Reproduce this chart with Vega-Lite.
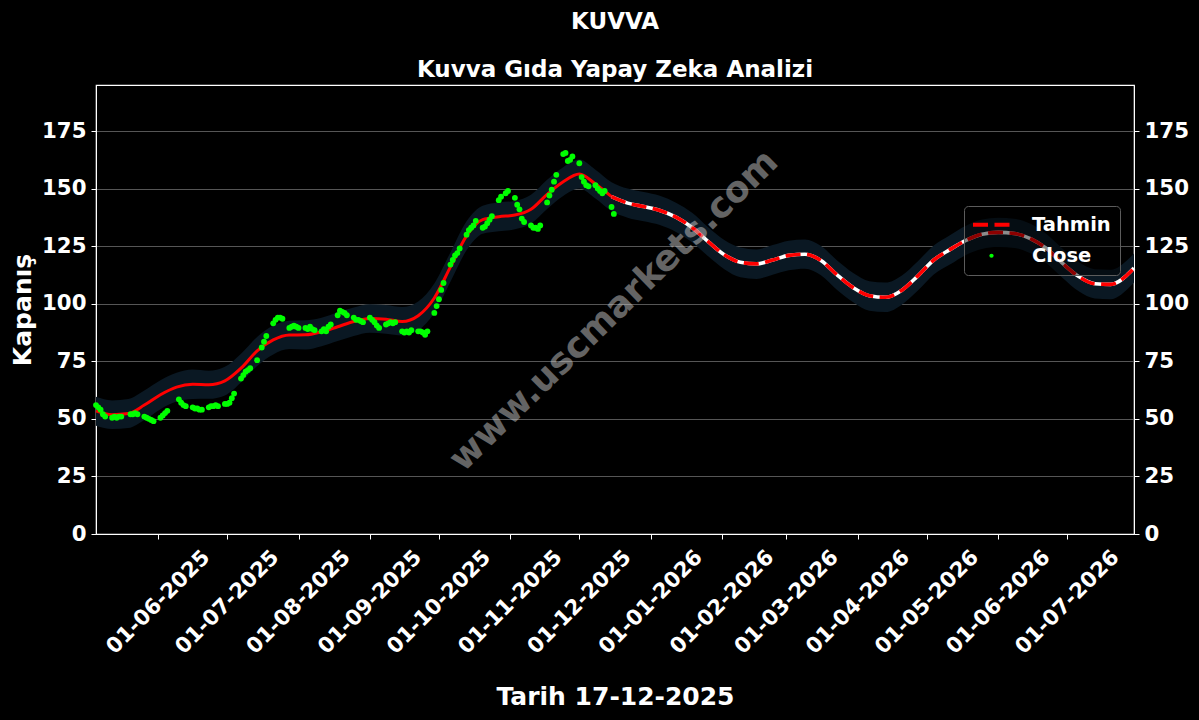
{
  "$schema": "https://vega.github.io/schema/vega-lite/v6.json",
  "width": 1038,
  "height": 449,
  "autosize": {"type": "none"},
  "padding": {"left": 96, "top": 85, "right": 65, "bottom": 186},
  "background": "black",
  "title": {
    "text": "KUVVA",
    "subtitle": "Kuvva Gıda Yapay Zeka Analizi",
    "anchor": "middle",
    "frame": "group",
    "color": "white",
    "subtitleColor": "white",
    "font": "DejaVu Sans",
    "subtitleFont": "DejaVu Sans",
    "fontSize": 23,
    "subtitleFontSize": 23,
    "fontWeight": "bold",
    "subtitleFontWeight": "bold",
    "subtitlePadding": 25,
    "offset": 3
  },
  "config": {
    "view": {"stroke": "white", "strokeWidth": 1.2},
    "axis": {
      "domainColor": "white",
      "tickColor": "white",
      "labelColor": "white",
      "titleColor": "white",
      "labelFont": "DejaVu Sans",
      "titleFont": "DejaVu Sans",
      "labelFontWeight": "bold",
      "titleFontWeight": "bold",
      "labelFontSize": 21.3,
      "titleFontSize": 25,
      "tickSize": 5,
      "labelPadding": 5,
      "grid": false
    }
  },
  "datasets": {
    "fc": [
      {"date": "2025-05-05", "yhat": 53.5, "lo": 47.0, "hi": 59.6, "seg": "h"},
      {"date": "2025-05-12", "yhat": 51.8, "lo": 45.6, "hi": 58.0, "seg": "h"},
      {"date": "2025-05-19", "yhat": 52.3, "lo": 46.0, "hi": 58.6, "seg": "h"},
      {"date": "2025-05-26", "yhat": 56.0, "lo": 49.5, "hi": 62.3, "seg": "h"},
      {"date": "2025-06-02", "yhat": 60.5, "lo": 54.2, "hi": 66.8, "seg": "h"},
      {"date": "2025-06-09", "yhat": 63.8, "lo": 57.5, "hi": 70.0, "seg": "h"},
      {"date": "2025-06-16", "yhat": 65.0, "lo": 58.6, "hi": 71.4, "seg": "h"},
      {"date": "2025-06-23", "yhat": 64.8, "lo": 58.7, "hi": 70.9, "seg": "h"},
      {"date": "2025-06-30", "yhat": 66.5, "lo": 60.2, "hi": 72.6, "seg": "h"},
      {"date": "2025-07-07", "yhat": 72.0, "lo": 65.8, "hi": 78.3, "seg": "h"},
      {"date": "2025-07-14", "yhat": 79.5, "lo": 73.0, "hi": 85.6, "seg": "h"},
      {"date": "2025-07-21", "yhat": 84.3, "lo": 78.0, "hi": 90.5, "seg": "h"},
      {"date": "2025-07-28", "yhat": 86.4, "lo": 80.3, "hi": 92.6, "seg": "h"},
      {"date": "2025-08-04", "yhat": 86.5, "lo": 80.1, "hi": 92.8, "seg": "h"},
      {"date": "2025-08-11", "yhat": 87.8, "lo": 81.5, "hi": 93.9, "seg": "h"},
      {"date": "2025-08-18", "yhat": 90.0, "lo": 83.8, "hi": 96.3, "seg": "h"},
      {"date": "2025-08-25", "yhat": 92.3, "lo": 86.0, "hi": 98.4, "seg": "h"},
      {"date": "2025-09-01", "yhat": 93.6, "lo": 87.4, "hi": 99.8, "seg": "h"},
      {"date": "2025-09-08", "yhat": 93.3, "lo": 87.0, "hi": 99.5, "seg": "h"},
      {"date": "2025-09-15", "yhat": 92.3, "lo": 86.2, "hi": 98.6, "seg": "h"},
      {"date": "2025-09-22", "yhat": 94.8, "lo": 88.5, "hi": 101.0, "seg": "h"},
      {"date": "2025-09-29", "yhat": 102.5, "lo": 96.0, "hi": 108.8, "seg": "h"},
      {"date": "2025-10-06", "yhat": 116.0, "lo": 109.6, "hi": 122.3, "seg": "h"},
      {"date": "2025-10-13", "yhat": 129.5, "lo": 123.2, "hi": 135.8, "seg": "h"},
      {"date": "2025-10-20", "yhat": 136.5, "lo": 130.4, "hi": 142.6, "seg": "h"},
      {"date": "2025-10-27", "yhat": 137.8, "lo": 131.5, "hi": 144.0, "seg": "h"},
      {"date": "2025-11-03", "yhat": 138.5, "lo": 132.3, "hi": 144.6, "seg": "h"},
      {"date": "2025-11-10", "yhat": 141.0, "lo": 134.8, "hi": 147.3, "seg": "h"},
      {"date": "2025-11-17", "yhat": 147.5, "lo": 141.1, "hi": 153.8, "seg": "h"},
      {"date": "2025-11-24", "yhat": 153.0, "lo": 146.8, "hi": 159.3, "seg": "h"},
      {"date": "2025-12-01", "yhat": 156.3, "lo": 150.0, "hi": 162.6, "seg": "h"},
      {"date": "2025-12-08", "yhat": 152.0, "lo": 145.7, "hi": 158.2, "seg": "h"},
      {"date": "2025-12-15", "yhat": 146.5, "lo": 140.3, "hi": 152.8, "seg": "h"},
      {"date": "2025-12-15", "yhat": 146.5, "lo": 140.3, "hi": 152.8, "seg": "f"},
      {"date": "2025-12-22", "yhat": 143.7, "lo": 137.4, "hi": 150.0, "seg": "f"},
      {"date": "2025-12-29", "yhat": 142.2, "lo": 135.8, "hi": 148.5, "seg": "f"},
      {"date": "2026-01-05", "yhat": 140.5, "lo": 134.2, "hi": 146.9, "seg": "f"},
      {"date": "2026-01-12", "yhat": 137.6, "lo": 131.2, "hi": 143.9, "seg": "f"},
      {"date": "2026-01-19", "yhat": 133.1, "lo": 126.7, "hi": 139.5, "seg": "f"},
      {"date": "2026-01-26", "yhat": 127.0, "lo": 120.6, "hi": 133.2, "seg": "f"},
      {"date": "2026-02-02", "yhat": 121.3, "lo": 115.0, "hi": 127.7, "seg": "f"},
      {"date": "2026-02-09", "yhat": 118.0, "lo": 111.5, "hi": 124.4, "seg": "f"},
      {"date": "2026-02-16", "yhat": 117.3, "lo": 110.8, "hi": 123.6, "seg": "f"},
      {"date": "2026-02-23", "yhat": 119.0, "lo": 112.6, "hi": 125.5, "seg": "f"},
      {"date": "2026-03-02", "yhat": 121.0, "lo": 114.5, "hi": 127.4, "seg": "f"},
      {"date": "2026-03-09", "yhat": 121.5, "lo": 115.2, "hi": 127.9, "seg": "f"},
      {"date": "2026-03-16", "yhat": 118.8, "lo": 112.4, "hi": 125.1, "seg": "f"},
      {"date": "2026-03-23", "yhat": 112.5, "lo": 106.0, "hi": 118.8, "seg": "f"},
      {"date": "2026-03-30", "yhat": 107.0, "lo": 100.7, "hi": 113.4, "seg": "f"},
      {"date": "2026-04-06", "yhat": 103.5, "lo": 97.0, "hi": 109.8, "seg": "f"},
      {"date": "2026-04-13", "yhat": 102.8, "lo": 96.4, "hi": 109.2, "seg": "f"},
      {"date": "2026-04-20", "yhat": 105.8, "lo": 99.5, "hi": 112.2, "seg": "f"},
      {"date": "2026-04-27", "yhat": 112.0, "lo": 105.6, "hi": 118.4, "seg": "f"},
      {"date": "2026-05-04", "yhat": 119.0, "lo": 112.7, "hi": 125.3, "seg": "f"},
      {"date": "2026-05-11", "yhat": 123.5, "lo": 117.0, "hi": 129.8, "seg": "f"},
      {"date": "2026-05-18", "yhat": 127.5, "lo": 121.2, "hi": 133.9, "seg": "f"},
      {"date": "2026-05-25", "yhat": 130.2, "lo": 123.8, "hi": 136.6, "seg": "f"},
      {"date": "2026-06-01", "yhat": 131.0, "lo": 124.6, "hi": 137.3, "seg": "f"},
      {"date": "2026-06-08", "yhat": 130.5, "lo": 124.2, "hi": 136.9, "seg": "f"},
      {"date": "2026-06-15", "yhat": 128.3, "lo": 121.9, "hi": 134.7, "seg": "f"},
      {"date": "2026-06-22", "yhat": 124.0, "lo": 117.6, "hi": 130.3, "seg": "f"},
      {"date": "2026-06-29", "yhat": 117.5, "lo": 111.2, "hi": 123.9, "seg": "f"},
      {"date": "2026-07-06", "yhat": 111.8, "lo": 105.4, "hi": 118.1, "seg": "f"},
      {"date": "2026-07-13", "yhat": 108.7, "lo": 102.3, "hi": 115.0, "seg": "f"},
      {"date": "2026-07-20", "yhat": 108.4, "lo": 102.0, "hi": 114.8, "seg": "f"},
      {"date": "2026-07-27", "yhat": 112.5, "lo": 106.2, "hi": 118.9, "seg": "f"},
      {"date": "2026-07-30", "yhat": 115.5, "lo": 109.2, "hi": 121.8, "seg": "f"}
    ],
    "close": [
      {"date": "2025-05-05", "close": 56},
      {"date": "2025-05-06", "close": 55},
      {"date": "2025-05-07", "close": 54},
      {"date": "2025-05-08", "close": 52},
      {"date": "2025-05-09", "close": 51},
      {"date": "2025-05-12", "close": 50.5},
      {"date": "2025-05-13", "close": 51},
      {"date": "2025-05-14", "close": 50.5},
      {"date": "2025-05-15", "close": 51},
      {"date": "2025-05-16", "close": 51},
      {"date": "2025-05-20", "close": 52},
      {"date": "2025-05-21", "close": 52},
      {"date": "2025-05-22", "close": 52.5},
      {"date": "2025-05-23", "close": 52},
      {"date": "2025-05-26", "close": 51},
      {"date": "2025-05-27", "close": 50.5},
      {"date": "2025-05-28", "close": 50},
      {"date": "2025-05-29", "close": 49.5},
      {"date": "2025-05-30", "close": 49},
      {"date": "2025-06-02", "close": 50.5},
      {"date": "2025-06-03", "close": 51.5},
      {"date": "2025-06-04", "close": 52.5},
      {"date": "2025-06-05", "close": 53.5},
      {"date": "2025-06-10", "close": 58.5},
      {"date": "2025-06-11", "close": 57},
      {"date": "2025-06-12", "close": 56},
      {"date": "2025-06-13", "close": 55.5},
      {"date": "2025-06-16", "close": 55},
      {"date": "2025-06-17", "close": 54.5},
      {"date": "2025-06-18", "close": 54.5},
      {"date": "2025-06-19", "close": 54},
      {"date": "2025-06-20", "close": 54},
      {"date": "2025-06-23", "close": 55},
      {"date": "2025-06-24", "close": 55.5},
      {"date": "2025-06-25", "close": 55.5},
      {"date": "2025-06-26", "close": 56},
      {"date": "2025-06-27", "close": 55.5},
      {"date": "2025-06-30", "close": 56.5},
      {"date": "2025-07-01", "close": 56.5},
      {"date": "2025-07-02", "close": 57},
      {"date": "2025-07-03", "close": 59},
      {"date": "2025-07-04", "close": 61},
      {"date": "2025-07-07", "close": 67.5},
      {"date": "2025-07-08", "close": 69},
      {"date": "2025-07-09", "close": 70.5},
      {"date": "2025-07-10", "close": 71.2},
      {"date": "2025-07-11", "close": 72},
      {"date": "2025-07-14", "close": 75.5},
      {"date": "2025-07-16", "close": 81},
      {"date": "2025-07-17", "close": 83.5},
      {"date": "2025-07-18", "close": 86},
      {"date": "2025-07-21", "close": 91.5},
      {"date": "2025-07-22", "close": 93},
      {"date": "2025-07-23", "close": 94},
      {"date": "2025-07-24", "close": 94},
      {"date": "2025-07-25", "close": 93.5},
      {"date": "2025-07-28", "close": 89.5},
      {"date": "2025-07-29", "close": 90},
      {"date": "2025-07-30", "close": 90.5},
      {"date": "2025-07-31", "close": 90},
      {"date": "2025-08-01", "close": 89.5},
      {"date": "2025-08-04", "close": 89.5},
      {"date": "2025-08-05", "close": 89},
      {"date": "2025-08-06", "close": 90},
      {"date": "2025-08-07", "close": 89},
      {"date": "2025-08-08", "close": 88.5},
      {"date": "2025-08-11", "close": 88},
      {"date": "2025-08-12", "close": 89},
      {"date": "2025-08-13", "close": 88},
      {"date": "2025-08-14", "close": 90},
      {"date": "2025-08-15", "close": 91},
      {"date": "2025-08-18", "close": 95},
      {"date": "2025-08-19", "close": 97},
      {"date": "2025-08-20", "close": 96.5},
      {"date": "2025-08-21", "close": 96},
      {"date": "2025-08-22", "close": 95},
      {"date": "2025-08-25", "close": 94},
      {"date": "2025-08-26", "close": 93},
      {"date": "2025-08-27", "close": 93},
      {"date": "2025-08-28", "close": 92.5},
      {"date": "2025-08-29", "close": 92},
      {"date": "2025-09-01", "close": 94},
      {"date": "2025-09-02", "close": 93},
      {"date": "2025-09-03", "close": 92},
      {"date": "2025-09-04", "close": 90.5},
      {"date": "2025-09-05", "close": 89.5},
      {"date": "2025-09-08", "close": 91},
      {"date": "2025-09-09", "close": 91.5},
      {"date": "2025-09-10", "close": 92},
      {"date": "2025-09-11", "close": 91.5},
      {"date": "2025-09-12", "close": 92},
      {"date": "2025-09-15", "close": 88},
      {"date": "2025-09-16", "close": 87.5},
      {"date": "2025-09-17", "close": 88},
      {"date": "2025-09-18", "close": 87.5},
      {"date": "2025-09-19", "close": 88.5},
      {"date": "2025-09-22", "close": 88},
      {"date": "2025-09-23", "close": 88},
      {"date": "2025-09-24", "close": 87.5},
      {"date": "2025-09-25", "close": 86.5},
      {"date": "2025-09-26", "close": 88},
      {"date": "2025-09-29", "close": 96},
      {"date": "2025-09-30", "close": 99},
      {"date": "2025-10-01", "close": 102},
      {"date": "2025-10-02", "close": 106},
      {"date": "2025-10-03", "close": 109},
      {"date": "2025-10-06", "close": 117},
      {"date": "2025-10-07", "close": 119},
      {"date": "2025-10-08", "close": 121},
      {"date": "2025-10-09", "close": 122},
      {"date": "2025-10-10", "close": 124},
      {"date": "2025-10-13", "close": 130},
      {"date": "2025-10-14", "close": 132},
      {"date": "2025-10-15", "close": 133},
      {"date": "2025-10-16", "close": 134},
      {"date": "2025-10-17", "close": 136},
      {"date": "2025-10-20", "close": 133},
      {"date": "2025-10-21", "close": 133.5},
      {"date": "2025-10-22", "close": 135},
      {"date": "2025-10-23", "close": 136.5},
      {"date": "2025-10-24", "close": 138},
      {"date": "2025-10-27", "close": 145},
      {"date": "2025-10-28", "close": 146.5},
      {"date": "2025-10-30", "close": 148},
      {"date": "2025-10-31", "close": 149},
      {"date": "2025-11-03", "close": 146},
      {"date": "2025-11-04", "close": 143},
      {"date": "2025-11-05", "close": 141},
      {"date": "2025-11-06", "close": 137},
      {"date": "2025-11-07", "close": 135.5},
      {"date": "2025-11-10", "close": 134},
      {"date": "2025-11-11", "close": 133},
      {"date": "2025-11-12", "close": 133},
      {"date": "2025-11-13", "close": 132.5},
      {"date": "2025-11-14", "close": 134},
      {"date": "2025-11-17", "close": 144},
      {"date": "2025-11-18", "close": 147},
      {"date": "2025-11-19", "close": 149.5},
      {"date": "2025-11-20", "close": 153},
      {"date": "2025-11-21", "close": 156},
      {"date": "2025-11-24", "close": 165},
      {"date": "2025-11-25", "close": 165.5},
      {"date": "2025-11-26", "close": 162},
      {"date": "2025-11-27", "close": 162.5},
      {"date": "2025-11-28", "close": 164},
      {"date": "2025-12-01", "close": 161},
      {"date": "2025-12-02", "close": 155},
      {"date": "2025-12-03", "close": 153},
      {"date": "2025-12-04", "close": 151.5},
      {"date": "2025-12-05", "close": 151},
      {"date": "2025-12-08", "close": 151.5},
      {"date": "2025-12-09", "close": 150},
      {"date": "2025-12-10", "close": 149},
      {"date": "2025-12-11", "close": 148},
      {"date": "2025-12-12", "close": 149},
      {"date": "2025-12-15", "close": 142},
      {"date": "2025-12-16", "close": 139}
    ]
  },
  "layer": [
    {
      "layer": [
        {
          "data": {"name": "fc"},
          "mark": {"type": "area", "color": "#0a1823", "interpolate": "monotone"},
          "encoding": {
            "x": {
              "field": "date",
              "type": "temporal",
              "scale": {
                "type": "utc",
                "nice": false,
                "domain": [
                  {"year": 2025, "month": 5, "date": 5, "utc": true},
                  {"year": 2026, "month": 7, "date": 30, "utc": true}
                ]
              },
              "title": "Tarih 17-12-2025",
              "axis": {
                "tickCount": {"interval": "month", "step": 1},
                "labelExpr": "utcFormat(datum.value, '%d-%m-%Y')",
                "labelAngle": -45,
                "labelAlign": "center",
                "labelBaseline": "middle",
                "labelPadding": 63,
                "labelOverlap": false,
                "labelFlush": false,
                "titleY": 162,
                "titleBaseline": "middle"
              }
            },
            "y": {
              "field": "lo",
              "type": "quantitative",
              "scale": {"domain": [0, 195], "nice": false, "zero": false},
              "title": "Kapanış",
              "axis": {
                "values": [0, 25, 50, 75, 100, 125, 150, 175],
                "grid": true,
                "gridColor": "#606060",
                "gridWidth": 0.9,
                "titleX": -74,
                "titleBaseline": "middle"
              }
            },
            "y2": {"field": "hi"}
          }
        },
        {
          "data": {"name": "fc"},
          "transform": [{"filter": "datum.seg === 'h'"}],
          "mark": {"type": "line", "color": "#ff0000", "strokeWidth": 3, "interpolate": "monotone"},
          "encoding": {
            "x": {"field": "date", "type": "temporal"},
            "y": {"field": "yhat", "type": "quantitative"}
          }
        },
        {
          "data": {"name": "fc"},
          "transform": [{"filter": "datum.seg === 'f'"}],
          "mark": {"type": "line", "color": "white", "strokeWidth": 3.6, "interpolate": "monotone"},
          "encoding": {
            "x": {"field": "date", "type": "temporal"},
            "y": {"field": "yhat", "type": "quantitative"}
          }
        },
        {
          "data": {"name": "fc"},
          "transform": [{"filter": "datum.seg === 'f'"}],
          "mark": {"type": "line", "strokeWidth": 3.6, "strokeDash": [15, 6.5], "interpolate": "monotone"},
          "encoding": {
            "x": {"field": "date", "type": "temporal"},
            "y": {"field": "yhat", "type": "quantitative"},
            "color": {
              "datum": "Tahmin",
              "type": "nominal",
              "scale": {"domain": ["Tahmin", "Close"], "range": ["#ff0000", "#00ff00"]},
              "legend": {
                "title": null,
                "orient": "none",
                "legendX": 868,
                "legendY": 121,
                "fillColor": "rgba(0,0,0,0.45)",
                "strokeColor": "#5c5c5c",
                "cornerRadius": 4,
                "padding": 9,
                "symbolSize": 1369,
                "symbolType": "stroke",
                "rowPadding": 10,
                "labelOffset": 22,
                "labelFont": "DejaVu Sans",
                "labelFontSize": 19.5,
                "labelFontWeight": "bold",
                "labelColor": "white",
                "encode": {
                  "symbols": {
                    "update": {
                      "x": {"value": 18.5},
                      "shape": {"signal": "datum.value === 'Tahmin' ? 'stroke' : 'circle'"},
                      "size": {"signal": "datum.value === 'Tahmin' ? 1369 : 18"},
                      "stroke": {"signal": "datum.value === 'Tahmin' ? '#ff0000' : 'transparent'"},
                      "fill": {"signal": "datum.value === 'Tahmin' ? 'transparent' : '#00ff00'"},
                      "strokeWidth": {"signal": "datum.value === 'Tahmin' ? 4 : 0"},
                      "strokeDash": {"signal": "datum.value === 'Tahmin' ? [15, 6.5] : [1, 0]"},
                      "opacity": {"value": 1},
                      "fillOpacity": {"value": 1},
                      "strokeOpacity": {"value": 1}
                    }
                  },
                  "labels": {
                    "update": {
                      "x": {"value": 59}
                    }
                  }
                }
              }
            }
          }
        },
        {
          "data": {"name": "close"},
          "mark": {"type": "point", "filled": true, "size": 34, "opacity": 1},
          "encoding": {
            "x": {"field": "date", "type": "temporal"},
            "y": {"field": "close", "type": "quantitative"},
            "color": {"datum": "Close", "type": "nominal"}
          }
        },
        {
          "data": {"values": [{}]},
          "mark": {
            "type": "text",
            "text": "www.uscmarkets.com",
            "angle": -44.3,
            "font": "DejaVu Sans",
            "fontWeight": "bold",
            "fontSize": 36,
            "color": "#c8c8c8",
            "opacity": 0.5,
            "align": "center",
            "baseline": "middle"
          },
          "encoding": {
            "x": {"datum": {"year": 2025, "month": 12, "date": 16, "utc": true}, "type": "temporal"},
            "y": {"datum": 97, "type": "quantitative"}
          }
        }
      ]
    },
    {
      "data": {"name": "fc"},
      "mark": {"type": "point", "opacity": 0},
      "encoding": {
        "x": {"field": "date", "type": "temporal"},
        "y": {
          "field": "yhat",
          "type": "quantitative",
          "scale": {"domain": [0, 195], "nice": false, "zero": false},
          "axis": {"orient": "right", "values": [0, 25, 50, 75, 100, 125, 150, 175], "title": null, "grid": false}
        }
      }
    }
  ],
  "resolve": {"scale": {"y": "independent"}}
}
